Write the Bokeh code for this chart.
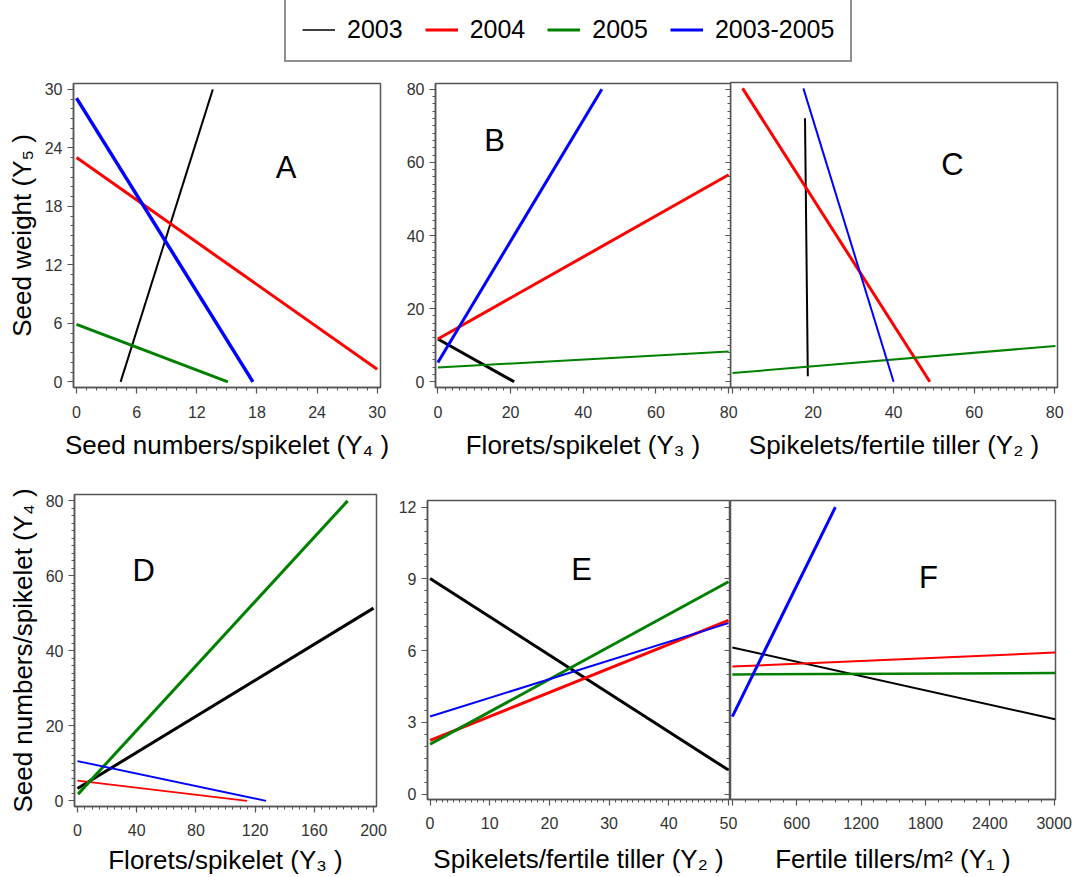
import numpy as np
from bokeh.plotting import figure
from bokeh.models import (Legend, LegendItem, Label, LinearAxis, SingleIntervalTicker,
                          Range1d, CustomJSTickFormatter)
from bokeh.layouts import row, column
from bokeh.embed import file_html
from bokeh.resources import INLINE

# ---------------- data ----------------
SERIES = ["2003", "2004", "2005", "2003-2005"]
COLORS = ["#000000", "#ff0000", "#008000", "#0000ff"]

# regression lines: [start, end] of each series (2003, 2004, 2005, 2003-2005)
A_x = [[4.4, 13.6], [0, 30], [0, 15.1], [0, 17.6]]
A_y = [[0, 30], [23.0, 1.3], [5.9, 0], [29.1, 0]]
B_x = [[0, 21.0], [0, 80], [0, 80], [0, 45.1]]
B_y = [[11.7, 0], [11.7, 56.6], [3.9, 8.3], [5.3, 80]]
C_x = [[18.0, 18.7], [2.5, 49.0], [0, 80.2], [17.6, 40.0]]
C_y = [[72.1, 1.5], [80.3, 0], [2.4, 9.8], [80.3, 0]]
D_x = [[0, 200], [0, 114.6], [0.4, 182.5], [0, 127.4]]
D_y = [[3.3, 51.4], [5.4, 0], [1.8, 80], [10.6, 0]]
E_x = [[0, 50], [0, 50], [0, 50], [0, 50]]
E_y = [[9.02, 1.0], [2.24, 7.26], [2.08, 8.88], [3.24, 7.15]]
F_x = [[0, 3009], [0, 3009], [0, 3009], [0, 960]]
F_y = [[6.13, 3.13], [5.33, 5.92], [5.0, 5.06], [3.24, 12.0]]

X_LABELS = ["Seed numbers/spikelet (Y\u2084 )", "Florets/spikelet (Y\u2083 )",
            "Spikelets/fertile tiller (Y\u2082 )", "Florets/spikelet (Y\u2083 )",
            "Spikelets/fertile tiller (Y\u2082 )", "Fertile tillers/m\u00b2 (Y\u2081 )"]
Y_LABELS = ["Seed weight (Y\u2085 )", "Seed numbers/spikelet (Y\u2084 )"]

FONT = "Liberation Sans"
FRAME = "#555555"


def style_axis(ax, s1, s2):
    ax.axis_line_color = FRAME
    ax.axis_line_width = 1.5
    ax.major_tick_line_color = FRAME
    ax.minor_tick_line_color = FRAME
    ax.major_tick_line_width = 1.2
    ax.minor_tick_line_width = 1
    ax.major_tick_out = 6
    ax.major_tick_in = 0
    ax.minor_tick_out = 3
    ax.minor_tick_in = 0
    ax.major_label_text_font = FONT
    ax.major_label_text_font_size = "16px"
    ax.major_label_text_color = "#333333"
    ax.major_label_standoff = s1
    ax.axis_label_text_font = FONT
    ax.axis_label_text_font_size = "26px"
    ax.axis_label_text_font_style = "normal"
    ax.axis_label_text_color = "#000000"
    ax.axis_label_standoff = s2


def panel(width, height, borders, xr, yr, xs, ys, lws, xtick, ytick, xlabel,
          ylabel=None, show_y=True, letter=None, transparent=False,
          s1=10, s2=8, inner_right=False, hide_first_x=False):
    p = figure(width=width, height=height, x_range=Range1d(*xr), y_range=Range1d(*yr),
               output_backend="svg", toolbar_location=None, tools="",
               y_axis_location="left" if show_y else None,
               min_border_left=borders[0], min_border_right=borders[1],
               min_border_top=borders[2], min_border_bottom=borders[3])
    p.grid.visible = False
    p.outline_line_color = FRAME
    p.outline_line_width = 1.5
    if transparent:
        p.background_fill_alpha = 0
        p.border_fill_alpha = 0
    p.xaxis.ticker = SingleIntervalTicker(interval=xtick[0], num_minor_ticks=xtick[1])
    p.xaxis.axis_label = xlabel
    style_axis(p.xaxis[0], s1, s2)
    if hide_first_x:
        p.xaxis.major_label_overrides = {0: ""}
    if show_y:
        p.yaxis.ticker = SingleIntervalTicker(interval=ytick[0], num_minor_ticks=ytick[1])
        if ylabel:
            p.yaxis.axis_label = ylabel
        style_axis(p.yaxis[0], 5, 5)
    if inner_right:
        ax = LinearAxis(ticker=SingleIntervalTicker(interval=ytick[0], num_minor_ticks=ytick[1]),
                        formatter=CustomJSTickFormatter(code="return ''"))
        ax.axis_line_color = None
        ax.major_tick_line_color = FRAME
        ax.minor_tick_line_color = FRAME
        ax.major_tick_in = 5
        ax.major_tick_out = 0
        ax.minor_tick_in = 3
        ax.minor_tick_out = 0
        ax.major_label_standoff = 0
        p.add_layout(ax, "right")
    for k in range(4):
        p.line(xs[k], ys[k], line_color=COLORS[k], line_width=lws[k])
    if letter:
        p.add_layout(Label(x=letter[1], y=letter[2], text=letter[0], text_font=FONT,
                           text_font_size="31px", text_align="center",
                           text_baseline="middle", text_color="#000000"))
    return p


# ---------------- legend strip ----------------
leg = figure(width=1072, height=70, x_range=(0, 1), y_range=(0, 1), output_backend="svg",
             toolbar_location=None, tools="", min_border=0)
leg.axis.visible = False
leg.grid.visible = False
leg.outline_line_color = None
leg_w = [1.5, 3, 3, 3]
items = []
for k in range(4):
    r = leg.line(x=np.array([np.nan]), y=np.array([np.nan]), line_color=COLORS[k],
                 line_width=leg_w[k])
    items.append(LegendItem(label=SERIES[k], renderers=[r]))
legend = Legend(items=items, orientation="horizontal", location=(284, 8), margin=0,
                padding=16, spacing=22, label_standoff=12, glyph_width=33, glyph_height=25,
                label_height=25, label_text_font=FONT, label_text_font_size="25px",
                label_text_color="#000000", border_line_color="#222222", border_line_width=2,
                background_fill_alpha=1)
leg.add_layout(legend)

# ---------------- panels ----------------
pA = panel(400, 401, (73, 20, 13, 84), (-0.3, 30.33), (-0.58, 30.6), A_x, A_y,
           [2, 3, 3, 3.5], (6, 6), (6, 6), X_LABELS[0], Y_LABELS[0],
           letter=("A", 20.9, 22.0), s1=12, s2=9)
pB = panel(342, 401, (35, 12, 13, 84), (-0.65, 80.5), (-1.56, 81.56), B_x, B_y,
           [3, 3, 2, 3], (20, 10), (20, 10), X_LABELS[1],
           letter=("B", 15.6, 66), s1=12, s2=9, inner_right=True)
pC = panel(342, 401, (0, 15, 12, 84), (-0.5, 80.7), (-1.56, 81.9), C_x, C_y,
           [2, 3, 2, 2], (20, 10), (20, 10), X_LABELS[2], show_y=False,
           letter=("C", 54.6, 59.4), transparent=True, s1=12, s2=9, hide_first_x=True)

pD = panel(395, 406, (74, 19, 23, 71), (-2.0, 202), (-1.5, 81.7), D_x, D_y,
           [3, 2, 3, 2], (40, 8), (20, 10), X_LABELS[3], Y_LABELS[1],
           letter=("D", 44.8, 61.5), s1=11, s2=6)
pE = panel(346, 406, (32, 12, 29, 78), (-0.43, 50.17), (-0.23, 12.28), E_x, E_y,
           [3, 3, 3, 2], (10, 10), (3, 6), X_LABELS[4],
           letter=("E", 25.4, 9.39), s1=11, s2=12, inner_right=True)
pF = panel(343, 406, (1, 17, 29, 78), (-17, 3012), (-0.23, 12.28), F_x, F_y,
           [2, 2, 2.5, 3], (600, 5), (3, 6), X_LABELS[5], show_y=False,
           letter=("F", 1827, 9.05), transparent=True, s1=11, s2=12, hide_first_x=True)

# wrap each panel so that the row does not align their frames
wA, wB, wC = column(pA), column(pB), column(pC)
wD, wE, wF = column(pD), column(pE), column(pF)
wC.styles = {"margin-left": "-12px"}
wF.styles = {"margin-left": "-12px"}

layout = column(leg, row(wA, wB, wC), row(wD, wE, wF))
open("out.html", "w").write(file_html(layout, INLINE))
